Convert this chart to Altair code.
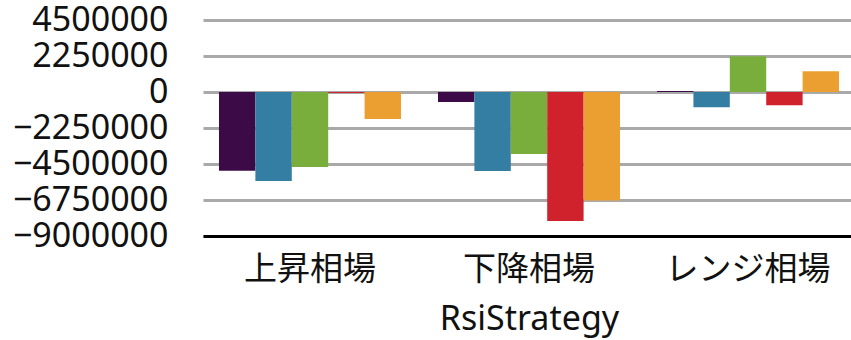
import altair as alt
import pandas as pd

markets = ["上昇相場", "下降相場", "レンジ相場"]
series = ["系列1", "系列2", "系列3", "系列4", "系列5"]
colors = ["#3c0b47", "#357ea3", "#7aae3c", "#d0222c", "#eb9f30"]

# values per series, in the order of markets
s1 = [-4920000, -620000, 60000]
s2 = [-5560000, -4940000, -960000]
s3 = [-4690000, -3880000, 2230000]
s4 = [-60000, -8060000, -830000]
s5 = [-1690000, -6780000, 1290000]

y_ticks = [4500000, 2250000, 0, -2250000, -4500000, -6750000, -9000000]

rows = []
for name, vals in zip(series, [s1, s2, s3, s4, s5]):
    for m, v in zip(markets, vals):
        rows.append({"market": m, "series": name, "value": v})
df = pd.DataFrame(rows)

FONT = "Noto Sans, Noto Sans CJK JP"

chart = alt.Chart(df).mark_bar().encode(
    x=alt.X(
        "market:N",
        sort=markets,
        title="RsiStrategy",
        scale=alt.Scale(paddingInner=0.169, paddingOuter=0.073, range=[0, 652]),
        axis=alt.Axis(
            labelAngle=0,
            labelFont=FONT,
            labelFontSize=33,
            labelColor="#111111",
            labelPadding=17,
            ticks=False,
            domainColor="#000000",
            domainWidth=3,
            titleFont=FONT,
            titleFontSize=34,
            titleFontWeight="normal",
            titleColor="#111111",
            titlePadding=16,
        ),
    ),
    xOffset=alt.XOffset("series:N", sort=series, scale=alt.Scale(paddingInner=0, paddingOuter=0)),
    y=alt.Y(
        "value:Q",
        title=None,
        scale=alt.Scale(domain=[-9000000, 4500000], nice=False),
        axis=alt.Axis(
            values=y_ticks,
            format="d",
            labelFont=FONT,
            labelFontSize=34,
            labelColor="#111111",
            labelPadding=35,
            ticks=False,
            domain=False,
            grid=True,
            gridColor="#a9a9a9",
            gridWidth=3,
        ),
    ),
    color=alt.Color("series:N", sort=series, scale=alt.Scale(domain=series, range=colors), legend=None),
).properties(
    width=648,
    height=216,
    autosize=alt.AutoSizeParams(type="none"),
    padding={"left": 203, "top": 20, "right": 0, "bottom": 104},
).configure_view(stroke=None)

chart.save("out.html", embed_options={"renderer": "svg", "actions": False})
